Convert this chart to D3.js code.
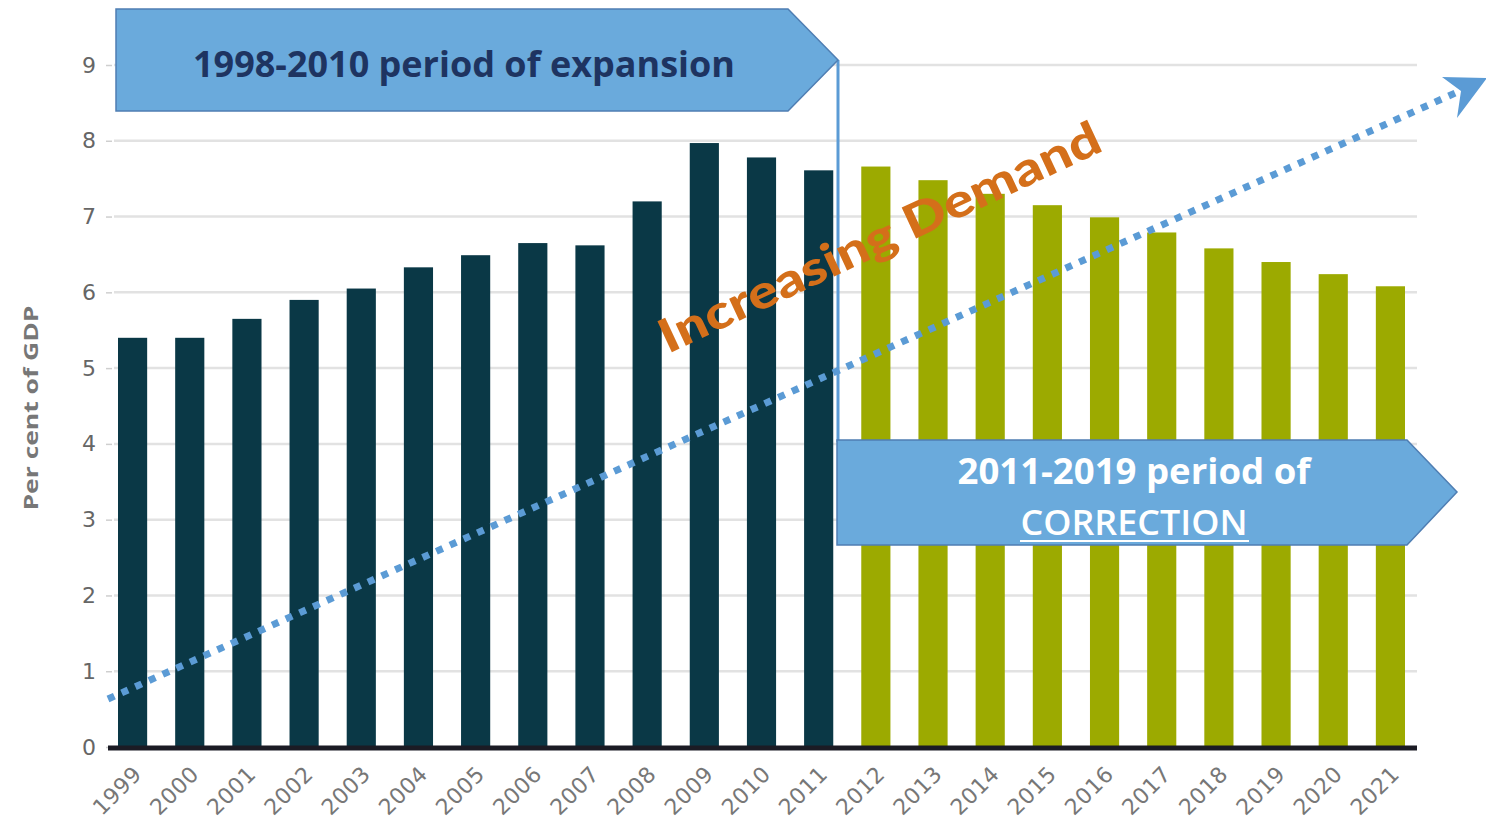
<!DOCTYPE html>
<html>
<head>
<meta charset="utf-8">
<script src="https://cdn.jsdelivr.net/npm/d3@7"></script>
<style>
  body { margin: 0; background: #fff; }
  svg { display: block; }
</style>
</head>
<body>
<div id="chart"></div>
<script>
// data
const years = ["1999","2000","2001","2002","2003","2004","2005","2006","2007","2008","2009","2010","2011",
               "2012","2013","2014","2015","2016","2017","2018","2019","2020","2021"];
const values = [5.4, 5.4, 5.65, 5.9, 6.05, 6.33, 6.49, 6.65, 6.62, 7.2, 7.97, 7.78, 7.61,
                7.66, 7.48, 7.3, 7.15, 6.99, 6.79, 6.58, 6.4, 6.24, 6.08];
const yTicks = [0, 1, 2, 3, 4, 5, 6, 7, 8, 9];
const lastExpansionYear = "2011";
const yTitle = "Per cent of GDP";
const box1Text = "1998-2010 period of expansion";
const box2Line1 = "2011-2019 period of";
const box2Line2 = "CORRECTION";
const trendLabel = "Increasing Demand";

const W = 1486, H = 830;
const svg = d3.select("#chart").append("svg")
  .attr("width", W).attr("height", H);

let x = d3.scaleBand()
  .domain(years)
  .range([118, 1405])
  .paddingInner(0.49)
  .paddingOuter(0);

let y = d3.scaleLinear()
  .domain([0, 9])
  .range([747, 65]);

// gridlines
svg.append("g")
  .selectAll("line")
  .data(yTicks.filter(d => d > 0))
  .enter().append("line")
  .attr("x1", 114).attr("x2", 1417)
  .attr("y1", d => y(d)).attr("y2", d => y(d))
  .attr("stroke", "#e2e2e2")
  .attr("stroke-width", 2.5);

// y axis labels + little ticks
let yAxis = svg.append("g")
  .attr("transform", "translate(112,0)")
  .call(d3.axisLeft(y).tickValues(yTicks).tickSize(6).tickPadding(10));
yAxis.select(".domain").remove();
yAxis.selectAll(".tick line").attr("stroke", "#cfcfcf").attr("stroke-width", 1.5);
yAxis.selectAll("text")
  .attr("fill", "#666")
  .style("font-family", "'DejaVu Sans', sans-serif")
  .style("font-size", "22px");

svg.append("text")
  .attr("transform", "translate(38,408) rotate(-90)")
  .attr("text-anchor", "middle")
  .attr("fill", "#777")
  .attr("textLength", 205).attr("lengthAdjust", "spacingAndGlyphs")
  .style("font-family", "'Open Sans', sans-serif")
  .style("font-weight", "bold")
  .style("font-size", "20px")
  .text(yTitle);

// bars
svg.append("g")
  .selectAll("rect")
  .data(years)
  .enter().append("rect")
  .attr("x", d => x(d))
  .attr("width", x.bandwidth())
  .attr("y", (d, i) => y(values[i]))
  .attr("height", (d, i) => y(0) - y(values[i]))
  .attr("fill", d => (+d <= +lastExpansionYear) ? "#0a3846" : "#9caa00");

// baseline
svg.append("line")
  .attr("x1", 108).attr("x2", 1417)
  .attr("y1", y(0) + 1).attr("y2", y(0) + 1)
  .attr("stroke", "#1b1b24").attr("stroke-width", 5);

// x labels rotated
svg.append("g")
  .selectAll("text")
  .data(years)
  .enter().append("text")
  .attr("transform", d => "translate(" + (x(d) + x.bandwidth() / 2 + 5) + ",770) rotate(-45)")
  .attr("text-anchor", "end")
  .attr("dy", "0.35em")
  .attr("fill", "#777")
  .style("font-family", "'DejaVu Sans', sans-serif")
  .style("font-size", "22px")
  .style("letter-spacing", "0.5px")
  .text(d => d);

// connector line between the two boxes
svg.append("line")
  .attr("x1", 838).attr("x2", 838)
  .attr("y1", 60).attr("y2", 442)
  .attr("stroke", "#5b9bd5").attr("stroke-width", 3);

// box 1
svg.append("path")
  .attr("d", "M116,9 L788,9 L838,60 L788,111 L116,111 Z")
  .attr("fill", "#6aaadc")
  .attr("stroke", "#4f7eb3").attr("stroke-width", 1.5);
svg.append("text")
  .attr("x", 464).attr("y", 77)
  .attr("text-anchor", "middle")
  .attr("fill", "#1e3461")
  .attr("textLength", 542).attr("lengthAdjust", "spacingAndGlyphs")
  .style("font-family", "'Open Sans', sans-serif")
  .style("font-weight", "bold")
  .style("font-size", "36px")
  .text(box1Text);

// box 2
svg.append("path")
  .attr("d", "M837,440 L1407,440 L1457,492 L1407,545 L837,545 Z")
  .attr("fill", "#6aaadc")
  .attr("stroke", "#4f7eb3").attr("stroke-width", 1.5);
svg.append("text")
  .attr("x", 1134).attr("y", 484)
  .attr("text-anchor", "middle")
  .attr("fill", "#fff")
  .attr("textLength", 353).attr("lengthAdjust", "spacingAndGlyphs")
  .style("font-family", "'Open Sans', sans-serif")
  .style("font-weight", "bold")
  .style("font-size", "35px")
  .text(box2Line1);
svg.append("text")
  .attr("x", 1134).attr("y", 535)
  .attr("text-anchor", "middle")
  .attr("fill", "#fff")
  .attr("textLength", 227).attr("lengthAdjust", "spacingAndGlyphs")
  .style("font-family", "'Open Sans', sans-serif")
  .style("font-weight", "600")
  .style("font-size", "35px")
  .text(box2Line2);
svg.append("line")
  .attr("x1", 1020).attr("x2", 1249)
  .attr("y1", 541).attr("y2", 541)
  .attr("stroke", "#fff").attr("stroke-width", 2);

// dotted trend arrow
svg.append("line")
  .attr("x1", 108).attr("y1", 699)
  .attr("x2", 1462).attr("y2", 90)
  .attr("stroke", "#5b9bd5")
  .attr("stroke-width", 7)
  .attr("stroke-dasharray", "7,8");
svg.append("path")
  .attr("d", "M1487,78 L1442,77 L1461,91 L1457,118 Z")
  .attr("fill", "#5b9bd5");

// label along the trend
svg.append("text")
  .attr("transform", "translate(668,354) rotate(-25)")
  .attr("fill", "#d46f1a")
  .attr("textLength", 482).attr("lengthAdjust", "spacingAndGlyphs")
  .style("font-family", "'Lato', sans-serif")
  .style("font-weight", "900")
  .style("font-size", "47px")
  .text(trendLabel);
</script>
</body>
</html>
